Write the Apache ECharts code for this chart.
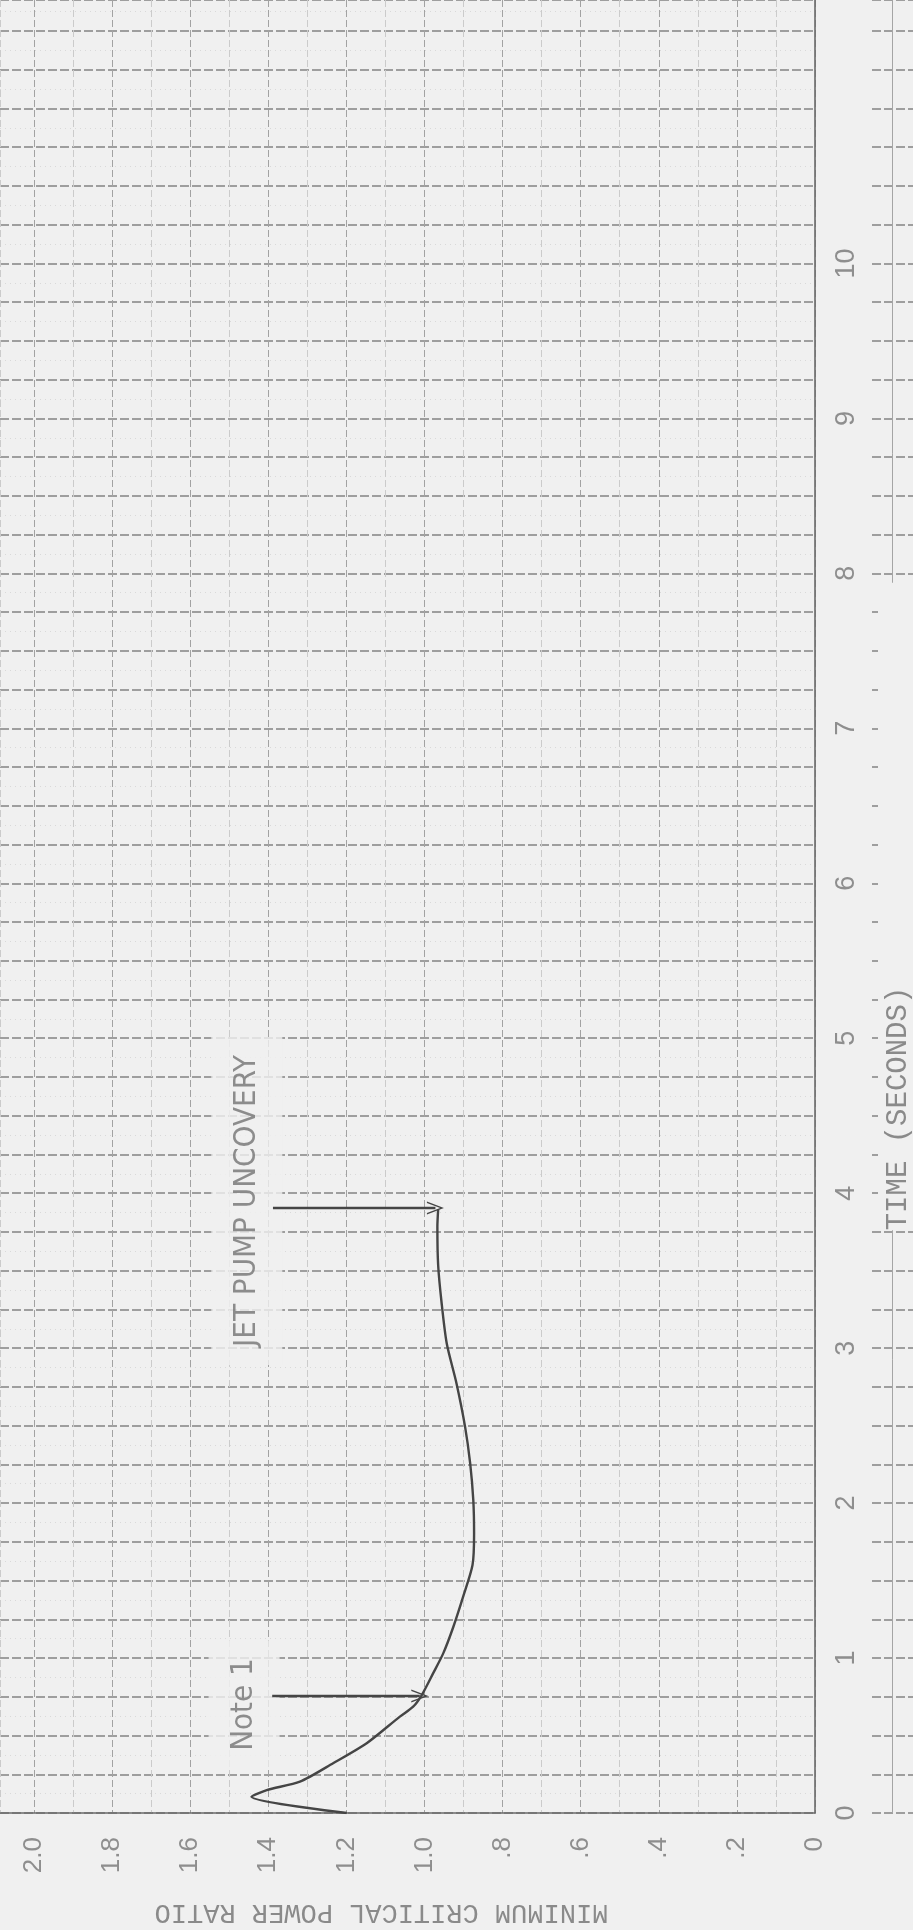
<!DOCTYPE html>
<html>
<head>
<meta charset="utf-8">
<script src="https://cdn.jsdelivr.net/npm/echarts@6/dist/echarts.min.js"></script>
<style>
  html, body { margin: 0; padding: 0; background: #f0f0f0; }
  #chart { width: 913px; height: 1930px; }
</style>
</head>
<body>
<div id="chart"></div>
<script>
// Minimum critical power ratio (MCPR) transient versus time after the event
const timeSec = [0.000, 0.105, 0.148, 0.202, 0.321, 0.450, 0.622, 0.686, 0.761, 0.901, 1.030, 1.202, 1.396, 1.600, 1.804, 2.019, 2.256, 2.492, 2.772, 3.030, 3.288, 3.535, 3.783, 3.895];
const mcpr    = [1.199, 1.443, 1.404, 1.319, 1.234, 1.148, 1.063, 1.029, 1.007, 0.978, 0.952, 0.926, 0.901, 0.877, 0.873, 0.875, 0.883, 0.896, 0.918, 0.943, 0.956, 0.965, 0.967, 0.965];

// Axis tick labels
const mcprTickValues = [0, 0.2, 0.4, 0.6, 0.8, 1.0, 1.2, 1.4, 1.6, 1.8, 2.0];
const mcprTickLabels = ['0', '.2', '.4', '.6', '.8', '1.0', '1.2', '1.4', '1.6', '1.8', '2.0'];
const timeTickValues = [0, 1, 2, 3, 4, 5, 6, 7, 8, 9, 10];
const timeTickLabels = ['0', '1', '2', '3', '4', '5', '6', '7', '8', '9', '10'];

// Annotations (text centred at time / MCPR) and their pointer arrows
const noteTexts = ['Note 1', 'JET PUMP UNCOVERY'];
const noteTime = [0.70, 3.95];
const noteMcpr = [1.462, 1.455];
const arrowTime = [0.755, 3.905];
const arrowFromMcpr = [1.390, 1.388];
const arrowToMcpr = [1.012, 0.972];

const PAPER = '#f0f0f0';
const INK = '#454545';

function tickLabel(values, labels) {
  return function (v) {
    for (let i = 0; i < values.length; i++) {
      if (Math.abs(v - values[i]) < 1e-6) return labels[i];
    }
    return '';
  };
}

const curve = timeSec.map((t, i) => [mcpr[i], t]);
const notes = noteTexts.map((s, i) => [noteMcpr[i], noteTime[i], s]);
const arrows = arrowTime.map((t, i) => [
  { coord: [arrowFromMcpr[i], t], symbol: 'none' },
  { coord: [arrowToMcpr[i], t] }
]);

const hLine = { color: '#828282', width: 1.5, type: [9, 3] };
const fineLine = { color: '#d9d9d9', width: 1, type: [1, 4] };

const chart = echarts.init(document.getElementById('chart'), null, { renderer: 'canvas' });
chart.setOption({
  backgroundColor: PAPER,
  animation: false,
  grid: [
    { left: 0, right: 98, top: 0, bottom: 117, outerBoundsMode: 'none', containLabel: false },
    { left: 872, right: 0, top: 0, bottom: 117, outerBoundsMode: 'none', containLabel: false }
  ],
  xAxis: [
    {
      type: 'value', gridIndex: 0, inverse: true, z: 1,
      min: 0, max: 2.087, interval: 0.1,
      position: 'bottom',
      axisLine: { show: true, lineStyle: { color: '#6a6a6a', width: 1.6 } },
      axisTick: { show: false },
      axisLabel: {
        rotate: 90, margin: 24, fontSize: 26, color: '#8e8e8e',
        fontFamily: 'Liberation Sans, Arial, sans-serif',
        showMaxLabel: false,
        formatter: tickLabel(mcprTickValues, mcprTickLabels)
      },
      splitLine: { show: true, lineStyle: { color: ['#a2a2a2', '#cbcbcb'], width: 1, type: [7, 3] } },
      name: 'MINIMUM CRITICAL POWER RATIO',
      nameLocation: 'middle', nameRotate: 180, nameGap: 86,
      nameTextStyle: {
        fontSize: 27, color: '#8a8a8a',
        fontFamily: 'Liberation Mono, DejaVu Sans Mono, monospace',
        padding: [0, 0, 0, 52]
      }
    },
    {
      type: 'value', gridIndex: 1, min: 0, max: 2, interval: 1, z: 0,
      axisLine: { show: false }, axisTick: { show: false }, axisLabel: { show: false },
      splitLine: { show: true, lineStyle: { color: ['transparent', '#a5a5a5', 'transparent'], width: 1 } }
    }
  ],
  yAxis: [
    {
      type: 'value', gridIndex: 0, z: 1,
      min: 0, max: 11.70, interval: 0.25,
      position: 'right',
      axisLine: { show: true, lineStyle: { color: '#6a6a6a', width: 1.6 } },
      axisTick: { show: false },
      axisLabel: {
        rotate: 90, margin: 18, fontSize: 27, color: '#8e8e8e',
        fontFamily: 'Liberation Sans, Arial, sans-serif',
        showMaxLabel: false,
        formatter: tickLabel(timeTickValues, timeTickLabels)
      },
      splitLine: { show: true, lineStyle: hLine },
      minorTick: { show: false, splitNumber: 2 },
      minorSplitLine: { show: true, lineStyle: fineLine },
      name: 'TIME (SECONDS)',
      nameLocation: 'middle', nameRotate: 90, nameGap: 63,
      nameTextStyle: {
        fontSize: 29, color: '#8a8a8a',
        fontFamily: 'Liberation Mono, DejaVu Sans Mono, monospace',
        backgroundColor: PAPER,
        padding: [6, 404, 6, 0]
      }
    },
    {
      type: 'value', gridIndex: 1, min: 0, max: 11.70, interval: 0.25, z: 0,
      axisLine: { show: false }, axisTick: { show: false }, axisLabel: { show: false },
      splitLine: { show: true, lineStyle: hLine }
    }
  ],
  series: [
    {
      type: 'line', xAxisIndex: 0, yAxisIndex: 0,
      data: curve, smooth: 0.25, symbol: 'none',
      lineStyle: { color: INK, width: 2.4 },
      z: 4,
      markLine: {
        silent: true, animation: false,
        symbol: ['none', 'path://M0,0 L7,16 L5.4,16 L0,3.5 L-5.4,16 L-7,16 Z'],
        symbolSize: [13, 17],
        label: { show: false },
        lineStyle: { color: INK, width: 2.4, type: 'solid' },
        data: arrows
      }
    },
    {
      type: 'scatter', xAxisIndex: 0, yAxisIndex: 0,
      data: notes, symbolSize: 0, silent: true, z: 3,
      label: {
        show: true, position: 'inside', rotate: 90,
        formatter: p => p.value[2],
        fontSize: 31, color: '#737373',
        fontFamily: 'Liberation Sans Narrow, DejaVu Sans Condensed, Liberation Sans, sans-serif',
        backgroundColor: PAPER,
        padding: [20, 18, 20, 18]
      }
    }
  ]
});
</script>
</body>
</html>
